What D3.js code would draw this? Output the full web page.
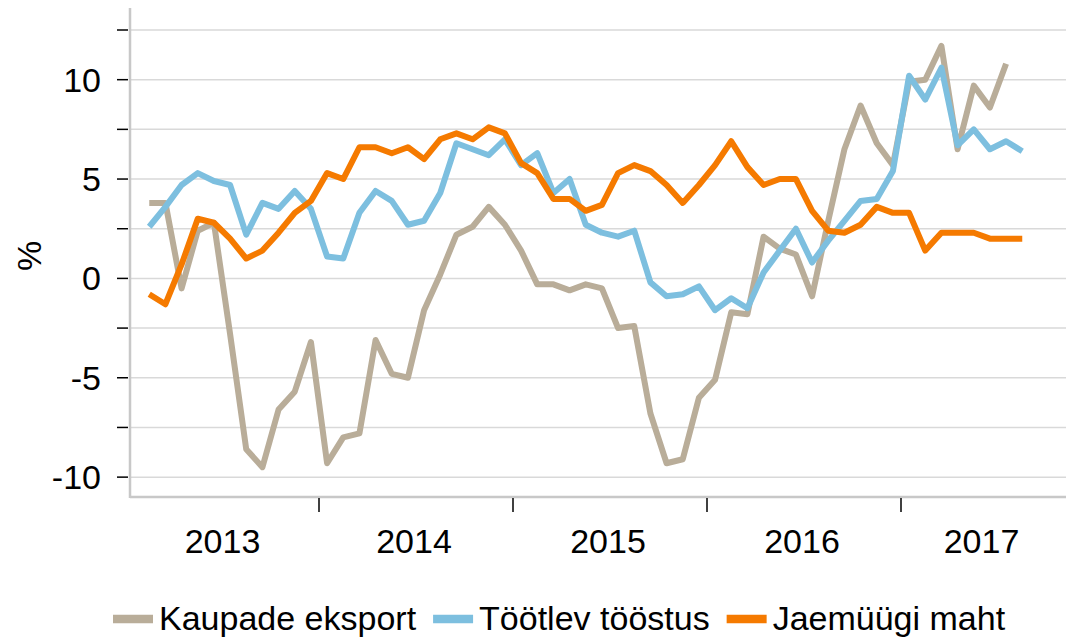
<!DOCTYPE html>
<html>
<head>
<meta charset="utf-8">
<script src="https://cdn.jsdelivr.net/npm/d3@7"></script>
<style>
  body { margin: 0; background: #fff; }
  svg { display: block; }
  text { font-family: 'Liberation Sans', Arial, sans-serif; fill: #000; }
</style>
</head>
<body>
<svg id="chart" width="1066" height="638"></svg>
<script>
// monthly data, Feb 2013 .. Aug 2017 (eksport ends Jul 2017)
const months = d3.timeMonth.range(new Date(2013, 1, 1), new Date(2017, 8, 1));

const eksport = [
  3.8, 3.8, -0.5, 2.4, 2.8, -2.8, -8.6, -9.5, -6.6, -5.7, -3.2,
  -9.3, -8.0, -7.8, -3.1, -4.8, -5.0, -1.6, 0.2, 2.2, 2.6, 3.6, 2.7,
  1.4, -0.3, -0.3, -0.6, -0.3, -0.5, -2.5, -2.4, -6.8, -9.3, -9.1, -6.0,
  -5.1, -1.7, -1.8, 2.1, 1.5, 1.2, -0.9, 2.9, 6.5, 8.7, 6.8, 5.7,
  9.9, 10.0, 11.7, 6.5, 9.7, 8.6, 10.8
];
const tootlev = [
  2.6, 3.6, 4.7, 5.3, 4.9, 4.7, 2.2, 3.8, 3.5, 4.4, 3.5,
  1.1, 1.0, 3.3, 4.4, 3.9, 2.7, 2.9, 4.3, 6.8, 6.5, 6.2, 7.0,
  5.7, 6.3, 4.3, 5.0, 2.7, 2.3, 2.1, 2.4, -0.2, -0.9, -0.8, -0.4,
  -1.6, -1.0, -1.5, 0.3, 1.4, 2.5, 0.8, 1.9, 2.9, 3.9, 4.0, 5.4,
  10.2, 9.0, 10.6, 6.7, 7.5, 6.5, 6.9, 6.4
];
const jaemuuk = [
  -0.8, -1.3, 0.7, 3.0, 2.8, 2.0, 1.0, 1.4, 2.3, 3.3, 3.9,
  5.3, 5.0, 6.6, 6.6, 6.3, 6.6, 6.0, 7.0, 7.3, 7.0, 7.6, 7.3,
  5.8, 5.3, 4.0, 4.0, 3.4, 3.7, 5.3, 5.7, 5.4, 4.7, 3.8, 4.7,
  5.7, 6.9, 5.6, 4.7, 5.0, 5.0, 3.4, 2.4, 2.3, 2.7, 3.6, 3.3,
  3.3, 1.4, 2.3, 2.3, 2.3, 2.0, 2.0, 2.0
];

const seriesNames = ["Kaupade eksport", "Töötlev tööstus", "Jaemüügi maht"];
const seriesColors = ["#b9ad99", "#7dbfdf", "#f57a00"];
const seriesValues = [eksport, tootlev, jaemuuk];

const years = [2013, 2014, 2015, 2016, 2017];
const yTicks = [-10, -7.5, -5, -2.5, 0, 2.5, 5, 7.5, 10, 12.5];
const yLabelTicks = [-10, -5, 0, 5, 10];

const plotLeft = 130, plotRight = 1066, plotTop = 8, plotBottom = 497;
const fontSize = 34;

const svg = d3.select("#chart");

// month index from Jan 2013, points sit in the middle of the month
const monthIdx = d => (d.getFullYear() - 2013) * 12 + d.getMonth();
const x = d3.scaleLinear().domain([0, 48]).range([125, 901]);
const y = d3.scaleLinear().domain([-11, 12.5]).range([plotBottom, 30]);

// gridlines
svg.append("g").selectAll("line").data(yTicks).join("line")
  .attr("x1", plotLeft).attr("x2", plotRight)
  .attr("y1", d => y(d)).attr("y2", d => y(d))
  .attr("stroke", "#d9d9d9").attr("stroke-width", 1.5);

// y ticks and labels
svg.append("g").selectAll("line").data(yTicks).join("line")
  .attr("x1", 117).attr("x2", plotLeft - 2)
  .attr("y1", d => y(d)).attr("y2", d => y(d))
  .attr("stroke", "#000").attr("stroke-width", 1.5);

svg.append("g").selectAll("text").data(yLabelTicks).join("text")
  .attr("x", 101).attr("y", d => y(d)).attr("dy", "0.35em")
  .attr("text-anchor", "end").attr("font-size", fontSize)
  .text(d => d);

svg.append("text")
  .attr("transform", "translate(41,256) rotate(-90)")
  .attr("text-anchor", "middle").attr("font-size", fontSize)
  .text("%");

// axis lines
svg.append("line").attr("x1", plotLeft).attr("x2", plotLeft)
  .attr("y1", plotTop).attr("y2", plotBottom + 1)
  .attr("stroke", "#c8c8c8").attr("stroke-width", 2.5);
svg.append("line").attr("x1", plotLeft).attr("x2", plotRight)
  .attr("y1", plotBottom).attr("y2", plotBottom)
  .attr("stroke", "#c8c8c8").attr("stroke-width", 2.5);

// year ticks at year boundaries
svg.append("g").selectAll("line").data(years.slice(1)).join("line")
  .attr("x1", d => x((d - 2013) * 12)).attr("x2", d => x((d - 2013) * 12))
  .attr("y1", plotBottom + 1).attr("y2", plotBottom + 15)
  .attr("stroke", "#000").attr("stroke-width", 1.5);

// year labels, centred in the visible part of each year
svg.append("g").selectAll("text").data(years).join("text")
  .attr("x", d => {
    const a = Math.max(plotLeft, x((d - 2013) * 12));
    const b = Math.min(plotRight, x((d - 2012) * 12));
    return (a + b) / 2 - 2;
  })
  .attr("y", 553)
  .attr("text-anchor", "middle").attr("font-size", fontSize)
  .text(d => d);

// lines
const line = d3.line()
  .x((d, i) => x(monthIdx(months[i]) + 0.5))
  .y(d => y(d));

svg.append("g").selectAll("path").data(seriesValues).join("path")
  .attr("d", d => line(d))
  .attr("fill", "none")
  .attr("stroke", (d, i) => seriesColors[i])
  .attr("stroke-width", 6)
  .attr("stroke-linejoin", "round");

// legend
const legend = svg.append("g");
let lx = 113;
seriesNames.forEach((name, i) => {
  legend.append("line")
    .attr("x1", lx).attr("x2", lx + 40)
    .attr("y1", 619).attr("y2", 619)
    .attr("stroke", seriesColors[i]).attr("stroke-width", 8.5);
  const t = legend.append("text")
    .attr("x", lx + 46).attr("y", 630)
    .attr("font-size", fontSize)
    .text(name);
  lx += 46 + t.node().getComputedTextLength() + 17;
});
</script>
</body>
</html>
